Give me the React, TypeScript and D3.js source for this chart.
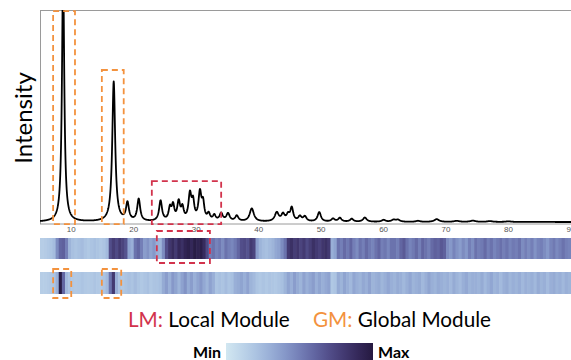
import { useMemo } from "react";
import * as d3 from "d3";

// peak table: position (2θ), intensity, half width
const peakPos = [8.7, 16.8, 19.0, 20.8, 24.3, 25.8, 26.3, 27.2, 27.8, 29.0, 29.5, 30.6, 31.1, 32.0, 32.9, 34.0, 35.1, 36.5, 38.9, 42.9, 43.9, 44.7, 45.3, 46.6, 47.4, 49.7, 51.9, 53.0, 54.9, 57.0, 60.0, 61.6, 62.3, 65.5, 68.5, 71.7, 74.3, 77.0, 80.0];
const peakHeight = [118, 66, 8.4, 10.4, 9.6, 5.8, 6.8, 8.6, 5.6, 12.2, 8.0, 13.0, 7.6, 3.2, 2.6, 3.6, 3.6, 2.6, 6.2, 4.2, 3.2, 2.8, 6.2, 2.3, 2.3, 4.5, 1.4, 1.8, 1.4, 2.0, 0.9, 0.9, 0.9, 0.5, 1.3, 0.5, 0.6, 0.4, 0.3];
const peakWidth = [0.22, 0.28, 0.28, 0.28, 0.28, 0.25, 0.25, 0.27, 0.25, 0.28, 0.24, 0.28, 0.24, 0.27, 0.27, 0.32, 0.32, 0.32, 0.4, 0.38, 0.32, 0.3, 0.28, 0.32, 0.32, 0.32, 0.32, 0.32, 0.32, 0.36, 0.36, 0.4, 0.4, 0.4, 0.45, 0.5, 0.5, 0.5, 0.5];

const xTicks = [10, 20, 30, 40, 50, 60, 70, 80, 90];

// heat strips, one value per 0.5° bin from 5° to 90°
const binStep = 0.5;
const lmValues = [
  0.15, 0.16, 0.18, 0.2, 0.24,
  0.45, 0.6, 0.62, 0.5,
  0.28, 0.22, 0.2, 0.22, 0.24, 0.2, 0.18, 0.2, 0.22, 0.2, 0.18, 0.2, 0.25,
  0.7, 0.78, 0.72, 0.8, 0.75, 0.68,
  0.35, 0.3,
  0.55, 0.6, 0.5,
  0.38, 0.42, 0.35, 0.4, 0.3, 0.28, 0.45,
  0.7, 0.82, 0.88, 0.8, 0.9, 0.85, 0.92, 0.95, 0.9, 0.97, 0.93, 0.96, 0.88, 0.72,
  0.5, 0.55, 0.48, 0.52, 0.45, 0.55, 0.5, 0.47, 0.52, 0.6,
  0.7, 0.72, 0.68, 0.8, 0.75,
  0.38, 0.28, 0.24, 0.22, 0.25, 0.28, 0.33, 0.36, 0.45, 0.55,
  0.8, 0.85, 0.78, 0.82, 0.75, 0.8, 0.72, 0.78, 0.85, 0.8, 0.76, 0.82, 0.85, 0.8,
  0.3, 0.35,
  0.55, 0.5, 0.58, 0.52, 0.6, 0.5, 0.45, 0.55, 0.5, 0.58, 0.52, 0.48, 0.55, 0.6, 0.5, 0.53, 0.47, 0.55,
  0.55, 0.5, 0.6, 0.65, 0.55, 0.48, 0.52, 0.58, 0.5, 0.6, 0.55, 0.5, 0.58, 0.62, 0.6, 0.66, 0.62,
  0.45, 0.4, 0.48, 0.42, 0.38, 0.45, 0.4, 0.5, 0.44,
  0.55, 0.5, 0.52, 0.58, 0.5, 0.55, 0.48, 0.52, 0.56, 0.5, 0.54, 0.48, 0.52, 0.5, 0.55, 0.45, 0.5,
  0.45, 0.5, 0.42, 0.48, 0.5, 0.45, 0.4, 0.48, 0.52, 0.46, 0.5, 0.55, 0.5, 0.48,
];
const gmValues = [
  0.15, 0.15, 0.16, 0.18, 0.2, 0.3,
  0.98, 0.6,
  0.25, 0.2, 0.18, 0.17, 0.18, 0.2, 0.18, 0.17, 0.18, 0.2, 0.18, 0.17, 0.2, 0.25,
  0.55, 0.8, 0.3,
  0.2, 0.18, 0.2, 0.22, 0.2, 0.24, 0.2, 0.18, 0.2, 0.22, 0.18, 0.2, 0.2, 0.22,
  0.32, 0.38, 0.3, 0.4, 0.35, 0.28, 0.36, 0.42, 0.32, 0.38, 0.3, 0.35, 0.4, 0.33, 0.28, 0.36, 0.3,
  0.2, 0.22, 0.2, 0.24, 0.2, 0.22, 0.3, 0.32,
  0.35, 0.3, 0.36, 0.28, 0.25,
  0.2, 0.18, 0.2, 0.18, 0.2, 0.19, 0.18, 0.2, 0.22, 0.28,
  0.35, 0.3, 0.38, 0.32, 0.28, 0.36, 0.3, 0.34, 0.38, 0.3, 0.35, 0.3, 0.33, 0.36,
  0.18, 0.2,
  0.32, 0.28, 0.35, 0.3, 0.26, 0.34, 0.3, 0.28, 0.33, 0.3, 0.36, 0.28, 0.3, 0.32, 0.27, 0.3, 0.34, 0.3,
  0.28, 0.32, 0.3, 0.26, 0.3, 0.34, 0.28, 0.3, 0.32, 0.26, 0.3, 0.35, 0.3, 0.28, 0.32, 0.3, 0.28,
  0.3, 0.26, 0.32, 0.28, 0.25, 0.3, 0.33, 0.28, 0.3,
  0.3, 0.28, 0.32, 0.26, 0.3, 0.34, 0.28, 0.3, 0.25, 0.3, 0.32, 0.27, 0.3, 0.28, 0.31, 0.26, 0.3,
  0.28, 0.3, 0.26, 0.32, 0.28, 0.3, 0.25, 0.3, 0.32, 0.28, 0.3, 0.26, 0.3, 0.28,
];

// annotation boxes in data units: [x0, x1, yTop intensity]
const gmPlotBoxes = [[7.1, 10.6, 99.5], [14.9, 18.4, 71.7]];
const lmPlotBox = [22.9, 34.0, 19.3];
const lmStripBox = [23.7, 32.2];
const gmStripBoxes = [[7.1, 10.0], [14.9, 18.0]];

const W = 571;
const H = 360;
const ORANGE = "#f3923e";
const RED = "#d2334c";

export default function App() {
  const x = d3.scaleLinear().domain([5, 90]).range([40, 571]);
  const y = d3.scaleLinear().domain([0, 100]).range([222, 10]);
  const color = d3.interpolateRgbBasis(["#d2e7f1", "#a3bde0", "#7280bb", "#4a3f7e", "#251940"]);

  const pathD = useMemo(() => {
    const pts: [number, number][] = [];
    for (let t = 5; t <= 90.001; t += 0.04) {
      let v = 0;
      peakPos.forEach((p, i) => {
        const g = peakWidth[i];
        v += peakHeight[i] / (1 + ((t - p) / g) ** 2);
      });
      pts.push([t, v]);
    }
    return d3.line<[number, number]>().x(d => x(d[0])).y(d => y(d[1]))(pts) || "";
  }, []);

  const strip = (vals: number[], y0: number, h: number) =>
    vals.map((v, i) => {
      const a = x(5 + i * binStep);
      const b = x(5 + (i + 1) * binStep);
      return <rect key={i} x={a} y={y0} width={b - a + 0.6} height={h} fill={color(v)} />;
    });

  const gradStops = d3.range(0, 1.0001, 0.1);

  return (
    <svg width={W} height={H} style={{ position: "absolute", left: 0, top: 0 }}>
      <defs>
        <clipPath id="plot">
          <rect x={40} y={10} width={531} height={214} />
        </clipPath>
        <clipPath id="strips">
          <rect x={39} y={230} width={532} height={70} />
        </clipPath>
        <linearGradient id="cbar" x1="0" x2="1" y1="0" y2="0">
          {gradStops.map(s => (
            <stop key={s} offset={s} stopColor={color(s)} />
          ))}
        </linearGradient>
      </defs>

      {/* frame */}
      <rect x={40.5} y={10.5} width={540} height={213.5} fill="none" stroke="#9a9a9a" strokeWidth={1} />

      <path d={pathD} fill="none" stroke="#000" strokeWidth={1.8} strokeLinejoin="round" clipPath="url(#plot)" />

      {/* tick labels */}
      {xTicks.map(t => (
        <text key={t} x={x(t)} y={232} fontSize={8} fill="#555" textAnchor="middle" fontFamily="Liberation Sans, Arial, sans-serif">
          {t}
        </text>
      ))}

      {/* heat strips */}
      <g clipPath="url(#strips)">
        {strip(lmValues, 238, 21)}
        {strip(gmValues, 272, 22)}
      </g>

      {/* GM boxes on pattern */}
      {gmPlotBoxes.map((b, i) => (
        <rect key={i} x={x(b[0])} y={y(b[2])} width={x(b[1]) - x(b[0])} height={y(-1) - y(b[2])}
          fill="none" stroke={ORANGE} strokeWidth={1.8} strokeDasharray="6,4" />
      ))}
      <rect x={x(lmPlotBox[0])} y={y(lmPlotBox[2])} width={x(lmPlotBox[1]) - x(lmPlotBox[0])} height={y(-1) - y(lmPlotBox[2])}
        fill="none" stroke={RED} strokeWidth={1.8} strokeDasharray="6,4" />

      {/* boxes on strips */}
      <rect x={x(lmStripBox[0])} y={231} width={x(lmStripBox[1]) - x(lmStripBox[0])} height={32}
        fill="none" stroke={RED} strokeWidth={1.8} strokeDasharray="6,4" />
      {gmStripBoxes.map((b, i) => (
        <rect key={i} x={x(b[0])} y={269} width={x(b[1]) - x(b[0])} height={29}
          fill="none" stroke={ORANGE} strokeWidth={1.8} strokeDasharray="6,4" />
      ))}

      {/* y label */}
      <text transform="translate(31.5,118) rotate(-90)" textAnchor="middle" fontSize={24} fontFamily="Lato, sans-serif" fill="#000">
        Intensity
      </text>

      {/* legend */}
      <text x={128} y={327} fontSize={20.7} fontFamily="Lato, sans-serif">
        <tspan fill={RED}>LM:</tspan>
        <tspan fill="#000"> Local Module</tspan>
      </text>
      <text x={313} y={327} fontSize={20.7} fontFamily="Lato, sans-serif">
        <tspan fill={ORANGE}>GM:</tspan>
        <tspan fill="#000"> Global Module</tspan>
      </text>

      {/* colour bar */}
      <text x={221} y={358} fontSize={16} fontWeight="bold" textAnchor="end" fontFamily="Lato, sans-serif">Min</text>
      <rect x={226} y={343} width={147} height={17} fill="url(#cbar)" />
      <text x={378} y={358} fontSize={16} fontWeight="bold" fontFamily="Lato, sans-serif">Max</text>
    </svg>
  );
}
